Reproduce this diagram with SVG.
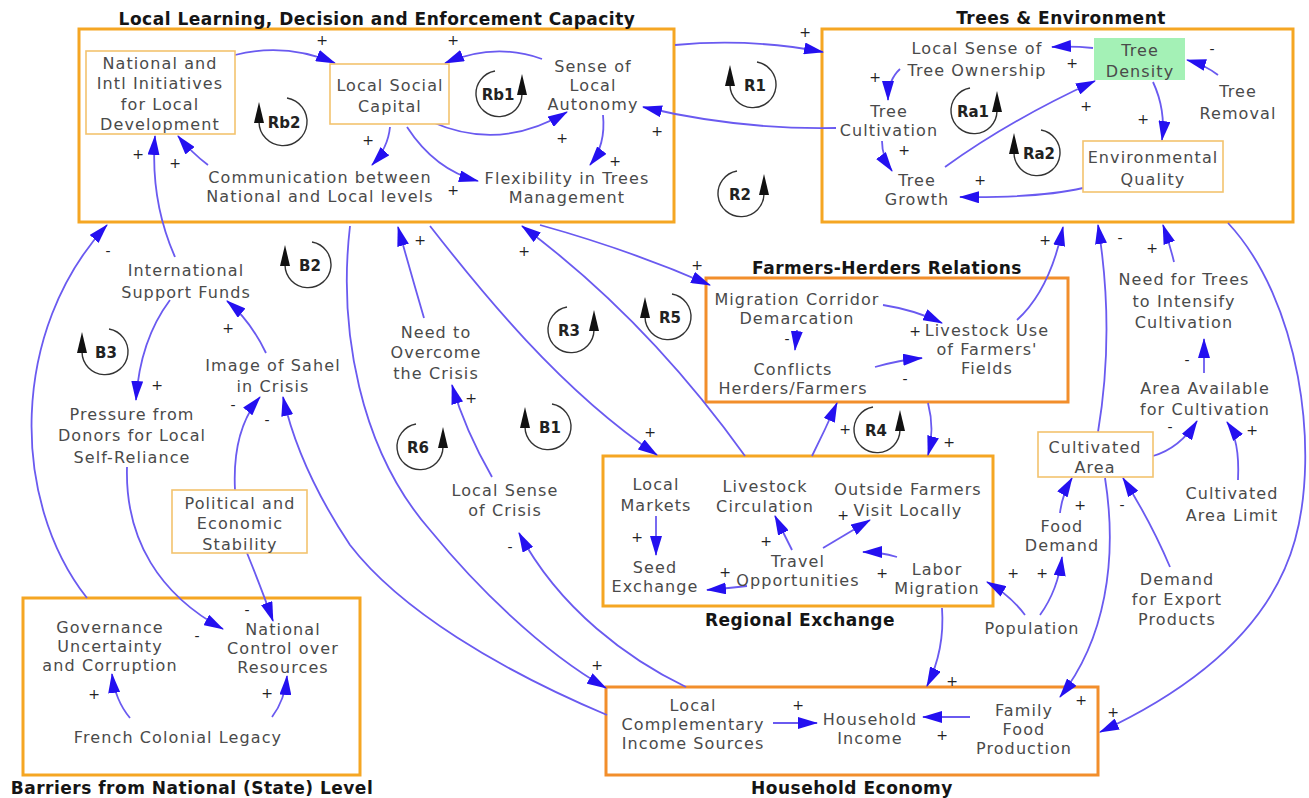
<svg xmlns="http://www.w3.org/2000/svg" width="1309" height="798" viewBox="0 0 1309 798">
<style>
.t{font-family:"DejaVu Sans",Verdana,sans-serif;font-size:16px;fill:#4a4a4a;text-anchor:middle;letter-spacing:1.1px}
.ttl{font-family:"DejaVu Sans",Verdana,sans-serif;font-size:17px;font-weight:bold;fill:#151515;text-anchor:middle;letter-spacing:0.5px}
.pol{font-family:"DejaVu Sans",Verdana,sans-serif;font-size:14px;fill:#222;text-anchor:middle}
.lp{font-family:"DejaVu Sans",Verdana,sans-serif;font-size:15px;font-weight:bold;fill:#222;text-anchor:middle}
.big{fill:#fff;stroke:#F5A623;stroke-width:3}
.big2{fill:#fff;stroke:#F28E2B;stroke-width:3}
.inner{fill:#fff;stroke:#F3C36E;stroke-width:1.6}
.c{fill:none;stroke:#6A5AF0;stroke-width:1.8;marker-end:url(#ah)}
.arc{fill:none;stroke:#333;stroke-width:1.4}
.tri{fill:#111}
</style>
<defs>
<marker id="ah" viewBox="0 0 20 12" refX="19" refY="6" markerWidth="20" markerHeight="12" markerUnits="userSpaceOnUse" orient="auto"><path d="M0,0 L20,6 L0,12 z" fill="#2410F0"/></marker>
</defs>
<rect width="1309" height="798" fill="#fff"/>

<!-- Group boxes -->
<g id="box-local-learning">
<rect class="big" x="79" y="29" width="595" height="193"/>
<text class="ttl" x="377" y="25">Local Learning, Decision and Enforcement Capacity</text>
</g>
<g id="box-trees">
<rect class="big" x="822" y="29" width="471" height="193"/>
<text class="ttl" x="1061" y="24">Trees &amp; Environment</text>
</g>
<g id="box-farmers-herders">
<rect class="big2" x="706" y="278" width="362" height="124"/>
<text class="ttl" x="887" y="274">Farmers-Herders Relations</text>
</g>
<g id="box-regional">
<rect class="big" x="603" y="456" width="390" height="150"/>
<text class="ttl" x="800" y="626">Regional Exchange</text>
</g>
<g id="box-barriers">
<rect class="big" x="23" y="598" width="337" height="177"/>
<text class="ttl" x="192" y="794">Barriers from National (State) Level</text>
</g>
<g id="box-household">
<rect class="big2" x="606" y="687" width="492" height="88"/>
<text class="ttl" x="852" y="794">Household Economy</text>
</g>

<!-- Connectors -->
<g id="connectors">
<path class="c" d="M235,55 Q285,42 335,63"/>
<path class="c" d="M542,59 Q495,42 445,63"/>
<path class="c" d="M432,122 Q500,152 567,112"/>
<path class="c" d="M390,127 Q388,148 372,165"/>
<path class="c" d="M407,127 Q435,170 478,181"/>
<path class="c" d="M603,115 Q606,145 590,165"/>
<path class="c" d="M208,165 Q192,153 178,136"/>
<path class="c" d="M175,257 Q150,200 155,136"/>
<path class="c" d="M1093,48 Q1073,46 1052,47"/>
<path class="c" d="M1218,75 Q1205,65 1187,60"/>
<path class="c" d="M900,69 Q888,80 888,100"/>
<path class="c" d="M882,141 Q882,157 892,171"/>
<path class="c" d="M945,167 Q1010,120 1095,81"/>
<path class="c" d="M1153,82 Q1166,110 1162,140"/>
<path class="c" d="M1083,188 Q1040,198 960,197"/>
<path class="c" d="M836,128 Q740,130 643,107"/>
<path class="c" d="M675,45 Q750,38 823,52"/>
<path class="c" d="M540,225 Q630,250 710,285"/>
<path class="c" d="M745,456 Q646,318 522,226"/>
<path class="c" d="M430,226 C480,290 560,390 657,455"/>
<path class="c" d="M424,318 Q410,270 398,227"/>
<path class="c" d="M492,477 Q465,430 452,385"/>
<path class="c" d="M686,687 C630,660 560,610 519,533"/>
<path class="c" d="M350,226 C338,330 360,450 430,530 C475,585 540,650 606,688"/>
<path class="c" d="M607,715 C500,670 400,610 350,545 C320,500 295,450 283,397"/>
<path class="c" d="M235,490 Q232,430 260,397"/>
<path class="c" d="M266,353 Q250,320 227,301"/>
<path class="c" d="M170,300 Q140,340 136,400"/>
<path class="c" d="M127,467 C125,540 160,595 223,629"/>
<path class="c" d="M247,553 Q262,590 273,621"/>
<path class="c" d="M87,598 C10,500 10,330 107,225"/>
<path class="c" d="M130,718 Q115,700 112,674"/>
<path class="c" d="M272,717 Q285,700 287,676"/>
<path class="c" d="M883,305 Q915,310 942,323"/>
<path class="c" d="M797,330 L795,350"/>
<path class="c" d="M875,367 Q900,360 922,358"/>
<path class="c" d="M1017,320 Q1050,290 1063,227"/>
<path class="c" d="M928,403 Q935,430 928,455"/>
<path class="c" d="M812,456 Q825,430 837,403"/>
<path class="c" d="M656,516 L656,555"/>
<path class="c" d="M792,550 L775,516"/>
<path class="c" d="M823,548 L870,520"/>
<path class="c" d="M897,557 Q880,552 863,552"/>
<path class="c" d="M747,586 Q730,588 707,590"/>
<path class="c" d="M942,608 Q945,650 927,686"/>
<path class="c" d="M1025,615 Q1010,595 987,582"/>
<path class="c" d="M1040,615 Q1058,590 1062,557"/>
<path class="c" d="M1060,513 Q1062,495 1072,478"/>
<path class="c" d="M1098,432 Q1115,330 1098,225"/>
<path class="c" d="M1153,456 Q1180,448 1197,421"/>
<path class="c" d="M1204,373 L1204,339"/>
<path class="c" d="M1174,262 Q1170,245 1163,225"/>
<path class="c" d="M1238,480 Q1240,440 1227,422"/>
<path class="c" d="M1170,567 Q1150,520 1123,478"/>
<path class="c" d="M1228,223 C1300,300 1320,450 1295,540 C1270,630 1190,690 1100,732"/>
<path class="c" d="M1105,478 C1118,560 1105,640 1060,697"/>
<path class="c" d="M970,717 L923,717"/>
<path class="c" d="M773,723 L817,723"/>
</g>

<!-- Polarity signs -->
<g id="polarities">
<text class="pol" x="322" y="45">+</text>
<text class="pol" x="453" y="45">+</text>
<text class="pol" x="562" y="143">+</text>
<text class="pol" x="368" y="145">+</text>
<text class="pol" x="453" y="195">+</text>
<text class="pol" x="615" y="166">+</text>
<text class="pol" x="175" y="168">+</text>
<text class="pol" x="138" y="159">+</text>
<text class="pol" x="1072" y="68">+</text>
<text class="pol" x="1212" y="54">-</text>
<text class="pol" x="875" y="82">+</text>
<text class="pol" x="904" y="155">+</text>
<text class="pol" x="1086" y="111">+</text>
<text class="pol" x="1143" y="124">+</text>
<text class="pol" x="980" y="185">+</text>
<text class="pol" x="657" y="136">+</text>
<text class="pol" x="805" y="37">+</text>
<text class="pol" x="697" y="270">+</text>
<text class="pol" x="524" y="256">+</text>
<text class="pol" x="650" y="437">+</text>
<text class="pol" x="420" y="245">+</text>
<text class="pol" x="471" y="403">+</text>
<text class="pol" x="510" y="552">-</text>
<text class="pol" x="597" y="670">+</text>
<text class="pol" x="267" y="425">-</text>
<text class="pol" x="233" y="410">-</text>
<text class="pol" x="228" y="333">+</text>
<text class="pol" x="157" y="390">+</text>
<text class="pol" x="197" y="641">-</text>
<text class="pol" x="247" y="615">-</text>
<text class="pol" x="108" y="256">-</text>
<text class="pol" x="94" y="699">+</text>
<text class="pol" x="267" y="698">+</text>
<text class="pol" x="915" y="336">+</text>
<text class="pol" x="787" y="344">-</text>
<text class="pol" x="905" y="384">-</text>
<text class="pol" x="1045" y="245">+</text>
<text class="pol" x="949" y="447">+</text>
<text class="pol" x="845" y="434">+</text>
<text class="pol" x="637" y="542">+</text>
<text class="pol" x="766" y="546">+</text>
<text class="pol" x="843" y="520">+</text>
<text class="pol" x="882" y="578">+</text>
<text class="pol" x="725" y="577">+</text>
<text class="pol" x="952" y="686">+</text>
<text class="pol" x="1013" y="578">+</text>
<text class="pol" x="1042" y="578">+</text>
<text class="pol" x="1080" y="510">+</text>
<text class="pol" x="1120" y="243">-</text>
<text class="pol" x="1170" y="432">-</text>
<text class="pol" x="1187" y="365">-</text>
<text class="pol" x="1152" y="253">+</text>
<text class="pol" x="1252" y="435">+</text>
<text class="pol" x="1122" y="510">-</text>
<text class="pol" x="1081" y="705">+</text>
<text class="pol" x="1113" y="717">+</text>
<text class="pol" x="942" y="740">+</text>
<text class="pol" x="798" y="710">+</text>
</g>

<!-- Loop markers -->
<g id="loop-Rb2"><path class="arc" d="M259,122 A24,24 0 1 0 287,98"/><polygon class="tri" points="259,102 254,123 264,123"/><text class="lp" x="284" y="128">Rb2</text></g>
<g id="loop-Rb1"><path class="arc" d="M522,94 A23,23 0 1 1 495,71"/><polygon class="tri" points="522,74 517,95 527,95"/><text class="lp" x="498" y="100">Rb1</text></g>
<g id="loop-R1"><path class="arc" d="M730,85 A23,23 0 1 0 757,62"/><polygon class="tri" points="730,65 725,86 735,86"/><text class="lp" x="755" y="91">R1</text></g>
<g id="loop-R2"><path class="arc" d="M764,194 A23,23 0 1 1 737,171"/><polygon class="tri" points="764,174 759,195 769,195"/><text class="lp" x="740" y="200">R2</text></g>
<g id="loop-Ra1"><path class="arc" d="M997,111 A23,23 0 1 1 970,88"/><polygon class="tri" points="997,91 992,112 1002,112"/><text class="lp" x="973" y="117">Ra1</text></g>
<g id="loop-Ra2"><path class="arc" d="M1014,153 A23,23 0 1 0 1041,130"/><polygon class="tri" points="1014,133 1009,154 1019,154"/><text class="lp" x="1039" y="159">Ra2</text></g>
<g id="loop-B2"><path class="arc" d="M285,265 A23,23 0 1 0 312,242"/><polygon class="tri" points="285,245 280,266 290,266"/><text class="lp" x="310" y="271">B2</text></g>
<g id="loop-B3"><path class="arc" d="M82,352 A23,23 0 1 0 109,329"/><polygon class="tri" points="82,332 77,353 87,353"/><text class="lp" x="106" y="358">B3</text></g>
<g id="loop-R3"><path class="arc" d="M594,330 A23,23 0 1 1 567,307"/><polygon class="tri" points="594,310 589,331 599,331"/><text class="lp" x="569" y="336">R3</text></g>
<g id="loop-R5"><path class="arc" d="M645,317 A23,23 0 1 0 672,294"/><polygon class="tri" points="645,297 640,318 650,318"/><text class="lp" x="670" y="323">R5</text></g>
<g id="loop-R6"><path class="arc" d="M443,447 A23,23 0 1 1 416,424"/><polygon class="tri" points="443,427 438,448 448,448"/><text class="lp" x="418" y="453">R6</text></g>
<g id="loop-B1"><path class="arc" d="M525,427 A23,23 0 1 0 552,404"/><polygon class="tri" points="525,407 520,428 530,428"/><text class="lp" x="550" y="433">B1</text></g>
<g id="loop-R4"><path class="arc" d="M900,430 A23,23 0 1 1 873,407"/><polygon class="tri" points="900,410 895,431 905,431"/><text class="lp" x="876" y="436">R4</text></g>

<!-- Nodes -->
<g id="node-national-initiatives"><rect class="inner" x="86" y="51" width="149" height="83"/><text class="t"><tspan x="160" y="69">National and</tspan><tspan x="160" y="89">Intl Initiatives</tspan><tspan x="160" y="110">for Local</tspan><tspan x="160" y="130">Development</tspan></text></g>
<g id="node-local-social-capital"><rect class="inner" x="330" y="64" width="119" height="60"/><text class="t"><tspan x="390" y="91">Local Social</tspan><tspan x="390" y="112">Capital</tspan></text></g>
<g id="node-sense-autonomy"><text class="t"><tspan x="593" y="72">Sense of</tspan><tspan x="593" y="91">Local</tspan><tspan x="593" y="110">Autonomy</tspan></text></g>
<g id="node-communication"><text class="t"><tspan x="320" y="183">Communication between</tspan><tspan x="320" y="202">National and Local levels</tspan></text></g>
<g id="node-flexibility"><text class="t"><tspan x="567" y="184">Flexibility in Trees</tspan><tspan x="567" y="203">Management</tspan></text></g>
<g id="node-tree-ownership"><text class="t"><tspan x="977" y="54">Local Sense of</tspan><tspan x="977" y="76">Tree Ownership</tspan></text></g>
<g id="node-tree-density"><rect x="1094" y="38" width="91" height="42" fill="#A4F1B6"/><text class="t"><tspan x="1140" y="56">Tree</tspan><tspan x="1140" y="77">Density</tspan></text></g>
<g id="node-tree-removal"><text class="t"><tspan x="1238" y="97">Tree</tspan><tspan x="1238" y="119">Removal</tspan></text></g>
<g id="node-tree-cultivation"><text class="t"><tspan x="889" y="117">Tree</tspan><tspan x="889" y="136">Cultivation</tspan></text></g>
<g id="node-tree-growth"><text class="t"><tspan x="917" y="186">Tree</tspan><tspan x="917" y="205">Growth</tspan></text></g>
<g id="node-env-quality"><rect class="inner" x="1083" y="141" width="140" height="51"/><text class="t"><tspan x="1153" y="163">Environmental</tspan><tspan x="1153" y="185">Quality</tspan></text></g>
<g id="node-intl-funds"><text class="t"><tspan x="186" y="276">International</tspan><tspan x="186" y="298">Support Funds</tspan></text></g>
<g id="node-image-sahel"><text class="t"><tspan x="273" y="371">Image of Sahel</tspan><tspan x="273" y="392">in Crisis</tspan></text></g>
<g id="node-pressure-donors"><text class="t"><tspan x="132" y="420">Pressure from</tspan><tspan x="132" y="441">Donors for Local</tspan><tspan x="132" y="463">Self-Reliance</tspan></text></g>
<g id="node-political-stability"><rect class="inner" x="172" y="490" width="135" height="63"/><text class="t"><tspan x="240" y="509">Political and</tspan><tspan x="240" y="529">Economic</tspan><tspan x="240" y="550">Stability</tspan></text></g>
<g id="node-need-overcome"><text class="t"><tspan x="436" y="338">Need to</tspan><tspan x="436" y="358">Overcome</tspan><tspan x="436" y="379">the Crisis</tspan></text></g>
<g id="node-local-crisis"><text class="t"><tspan x="505" y="496">Local Sense</tspan><tspan x="505" y="516">of Crisis</tspan></text></g>
<g id="node-migration-corridor"><text class="t"><tspan x="797" y="305">Migration Corridor</tspan><tspan x="797" y="324">Demarcation</tspan></text></g>
<g id="node-conflicts"><text class="t"><tspan x="793" y="375">Conflicts</tspan><tspan x="793" y="394">Herders/Farmers</tspan></text></g>
<g id="node-livestock-use"><text class="t"><tspan x="987" y="336">Livestock Use</tspan><tspan x="987" y="355">of Farmers'</tspan><tspan x="987" y="374">Fields</tspan></text></g>
<g id="node-need-trees"><text class="t"><tspan x="1184" y="285">Need for Trees</tspan><tspan x="1184" y="307">to Intensify</tspan><tspan x="1184" y="328">Cultivation</tspan></text></g>
<g id="node-area-available"><text class="t"><tspan x="1205" y="394">Area Available</tspan><tspan x="1205" y="415">for Cultivation</tspan></text></g>
<g id="node-cultivated-area"><rect class="inner" x="1038" y="432" width="115" height="45"/><text class="t"><tspan x="1095" y="453">Cultivated</tspan><tspan x="1095" y="473">Area</tspan></text></g>
<g id="node-area-limit"><text class="t"><tspan x="1232" y="499">Cultivated</tspan><tspan x="1232" y="521">Area Limit</tspan></text></g>
<g id="node-food-demand"><text class="t"><tspan x="1062" y="532">Food</tspan><tspan x="1062" y="551">Demand</tspan></text></g>
<g id="node-export-demand"><text class="t"><tspan x="1177" y="585">Demand</tspan><tspan x="1177" y="605">for Export</tspan><tspan x="1177" y="625">Products</tspan></text></g>
<g id="node-population"><text class="t" x="1032" y="634">Population</text></g>
<g id="node-local-markets"><text class="t"><tspan x="656" y="490">Local</tspan><tspan x="656" y="511">Markets</tspan></text></g>
<g id="node-livestock-circulation"><text class="t"><tspan x="765" y="492">Livestock</tspan><tspan x="765" y="512">Circulation</tspan></text></g>
<g id="node-outside-farmers"><text class="t"><tspan x="908" y="495">Outside Farmers</tspan><tspan x="908" y="516">Visit Locally</tspan></text></g>
<g id="node-seed-exchange"><text class="t"><tspan x="655" y="573">Seed</tspan><tspan x="655" y="592">Exchange</tspan></text></g>
<g id="node-travel"><text class="t"><tspan x="798" y="567">Travel</tspan><tspan x="798" y="586">Opportunities</tspan></text></g>
<g id="node-labor-migration"><text class="t"><tspan x="937" y="575">Labor</tspan><tspan x="937" y="594">Migration</tspan></text></g>
<g id="node-governance"><text class="t"><tspan x="110" y="633">Governance</tspan><tspan x="110" y="652">Uncertainty</tspan><tspan x="110" y="671">and Corruption</tspan></text></g>
<g id="node-national-control"><text class="t"><tspan x="283" y="635">National</tspan><tspan x="283" y="654">Control over</tspan><tspan x="283" y="673">Resources</tspan></text></g>
<g id="node-french-legacy"><text class="t" x="178" y="743">French Colonial Legacy</text></g>
<g id="node-complementary-income"><text class="t"><tspan x="693" y="711">Local</tspan><tspan x="693" y="730">Complementary</tspan><tspan x="693" y="749">Income Sources</tspan></text></g>
<g id="node-household-income"><text class="t"><tspan x="870" y="725">Household</tspan><tspan x="870" y="744">Income</tspan></text></g>
<g id="node-family-food"><text class="t"><tspan x="1024" y="716">Family</tspan><tspan x="1024" y="735">Food</tspan><tspan x="1024" y="754">Production</tspan></text></g>
</svg>
